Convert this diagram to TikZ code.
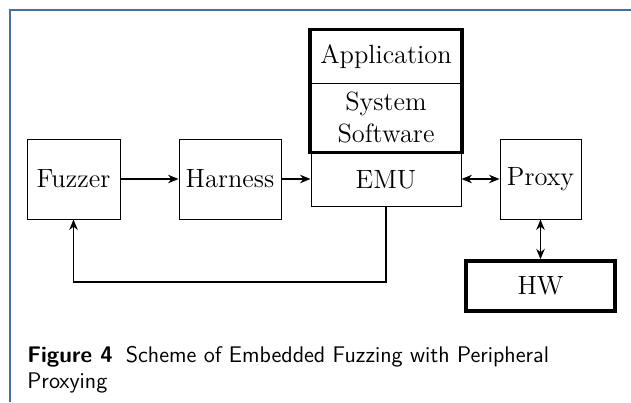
\documentclass[tikz,border=0pt]{standalone}
\usetikzlibrary{arrows.meta,fit,positioning}
\definecolor{framecol}{RGB}{70,110,160}
\begin{document}
\begin{tikzpicture}[x=0.5pt,y=-0.5pt,
  box/.style={draw, line width=0.5pt, inner sep=0pt, align=center,
    font=\fontsize{13.2}{15.8}\selectfont},
  heavybox/.style={draw, line width=1.7pt, inner sep=0pt},
  flow/.style={line width=0.9pt, -{Stealth[length=5.2pt,width=4.2pt]}},
  bothflow/.style={line width=0.9pt, {Stealth[length=5.2pt,width=4.2pt]}-{Stealth[length=5.2pt,width=4.2pt]}},
  caption/.style={anchor=north west, align=left, inner sep=0pt,
    font=\sffamily\fontsize{11.3}{13}\selectfont}]
  \useasboundingbox (0,0) rectangle (631,402);
  % page frame
  \draw[framecol, line width=1pt] (9.5,402) -- (9.5,9.5) -- (631,9.5);

  % main chain
  \node[box, minimum width=46.5pt, minimum height=40pt] (fuzzer) at (73.5,179) {Fuzzer};
  \node[box, minimum width=51pt, minimum height=40pt] (harness) at (230,179) {Harness};
  \node[box, minimum width=75pt, minimum height=26.5pt] (emu) at (386,179.5) {EMU};
  \node[box, minimum width=40.5pt, minimum height=40pt] (proxy) at (540.5,179) {Proxy};

  % software stack on top of the emulator
  \node[box, minimum width=75.5pt, minimum height=26.5pt] (app) at (386,56.5) {Application};
  \node[box, minimum width=75.5pt, minimum height=34.5pt] (sys) at (386,117.5) {System\\Software};
  \node[heavybox, fit=(app)(sys)] (stack) {};

  % hardware
  \node[box, heavybox, minimum width=74.5pt, minimum height=25pt] (hw) at (540.5,286) {HW};

  % connections
  \draw[flow] (fuzzer) -- (harness);
  \draw[flow] (harness.east) -- (emu.west |- harness.east);
  \draw[bothflow] (emu.east |- proxy.west) -- (proxy.west);
  \draw[bothflow] (proxy.south) -- (hw.north);
  \coordinate (loop) at (386,282);
  \draw[flow] (emu.south) -- (loop) -| (fuzzer.south);

  % caption
  \node[caption] (cap) at (27,346)
    {\textbf{Figure 4}\hspace{6.5pt}Scheme of Embedded Fuzzing with Peripheral\\Proxying};
\end{tikzpicture}
\end{document}
